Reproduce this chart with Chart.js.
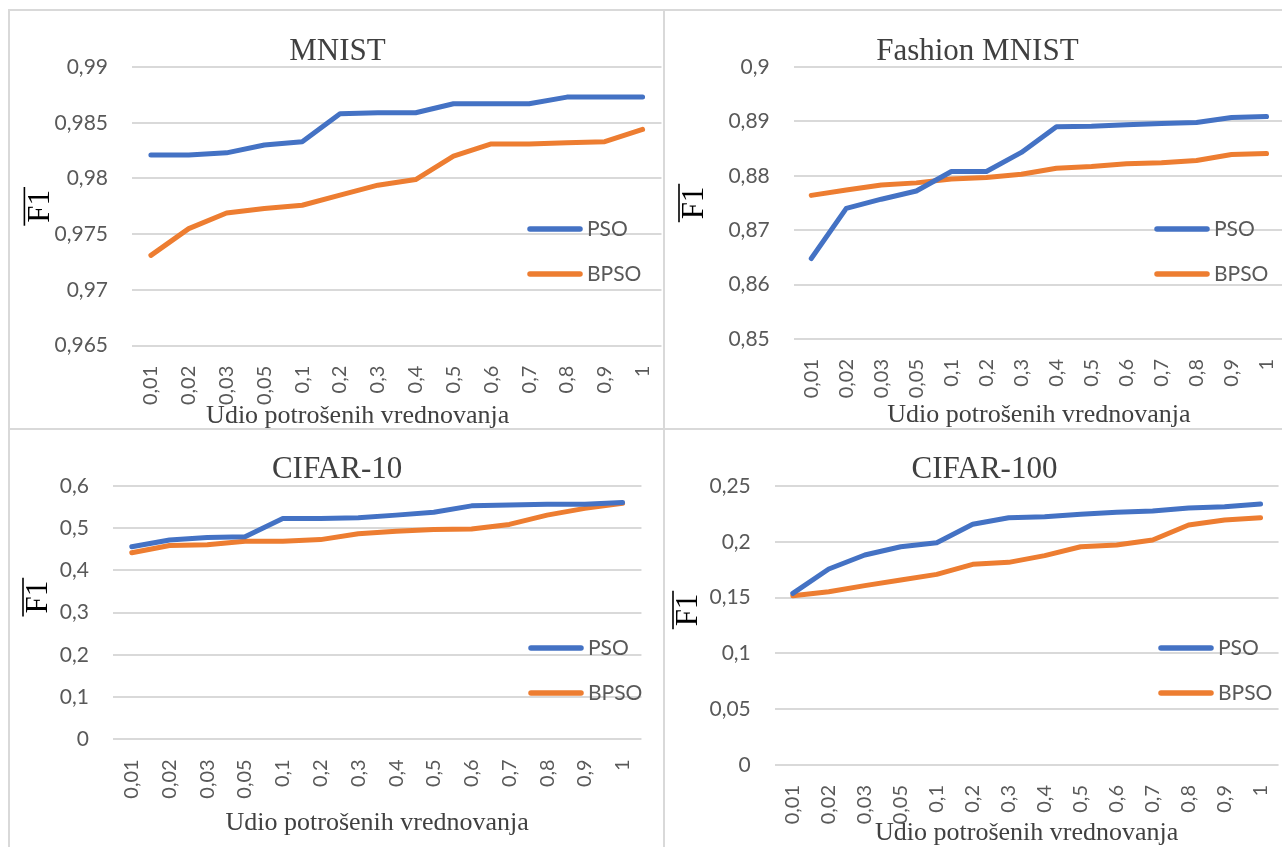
<!DOCTYPE html>
<html>
<head>
<meta charset="utf-8">
<title>PSO / BPSO - F1</title>
<script src="https://cdn.jsdelivr.net/npm/chart.js@4.4.1/dist/chart.umd.min.js"></script>
<style>
  html, body { margin: 0; padding: 0; background: #fff; }
  body { width: 1282px; height: 847px; position: relative; overflow: hidden; }
  .cell { position: absolute; overflow: hidden; }
  .cell canvas { position: absolute; left: 0; top: 0; }
  .rule { position: absolute; background: #d9d9d9; z-index: 5; }
</style>
</head>
<body>
<div class="cell" style="left:0;top:0;width:664px;height:429px"><canvas id="mnist" width="679" height="429" style="width:679px;height:429px"></canvas></div>
<div class="cell" style="left:664px;top:0;width:618px;height:429px"><canvas id="fashion" width="639" height="429" style="width:639px;height:429px"></canvas></div>
<div class="cell" style="left:0;top:429px;width:664px;height:418px"><canvas id="cifar10" width="659" height="418" style="width:659px;height:418px"></canvas></div>
<div class="cell" style="left:664px;top:429px;width:618px;height:418px"><canvas id="cifar100" width="633" height="418" style="width:633px;height:418px"></canvas></div>

<div class="rule" style="left:8px;top:9px;width:1274px;height:2px"></div>
<div class="rule" style="left:8px;top:9px;width:2px;height:838px"></div>
<div class="rule" style="left:663px;top:9px;width:2px;height:838px"></div>
<div class="rule" style="left:8px;top:428px;width:1274px;height:2px"></div>

<script>
// udio potrosenih vrednovanja (x kategorije)
var categories = ['0,01', '0,02', '0,03', '0,05', '0,1', '0,2', '0,3', '0,4', '0,5', '0,6', '0,7', '0,8', '0,9', '1'];
var seriesNames = ['PSO', 'BPSO'];

var mnistPso  = [0.9821, 0.9821, 0.9823, 0.9830, 0.9833, 0.9858, 0.9859, 0.9859, 0.9867, 0.9867, 0.9867, 0.9873, 0.9873, 0.9873];
var mnistBpso = [0.9731, 0.9755, 0.9769, 0.9773, 0.9776, 0.9785, 0.9794, 0.9799, 0.9820, 0.9831, 0.9831, 0.9832, 0.9833, 0.9844];

var fashionPso  = [0.8648, 0.8740, 0.8757, 0.8772, 0.8808, 0.8808, 0.8843, 0.8890, 0.8891, 0.8894, 0.8896, 0.8898, 0.8907, 0.8909];
var fashionBpso = [0.8764, 0.8774, 0.8783, 0.8787, 0.8794, 0.8797, 0.8803, 0.8814, 0.8817, 0.8822, 0.8824, 0.8828, 0.8839, 0.8841];

var cifar10Pso  = [0.456, 0.472, 0.478, 0.480, 0.523, 0.523, 0.525, 0.531, 0.538, 0.553, 0.555, 0.557, 0.557, 0.561];
var cifar10Bpso = [0.442, 0.459, 0.461, 0.469, 0.469, 0.473, 0.487, 0.493, 0.497, 0.498, 0.509, 0.531, 0.547, 0.559];

var cifar100Pso  = [0.1538, 0.1756, 0.1882, 0.1956, 0.1992, 0.2157, 0.2216, 0.2225, 0.2246, 0.2264, 0.2276, 0.2303, 0.2315, 0.2339];
var cifar100Bpso = [0.1517, 0.1553, 0.1607, 0.1658, 0.1708, 0.1798, 0.1816, 0.1876, 0.1956, 0.1971, 0.2016, 0.2151, 0.2195, 0.2216];

var mnistTicks    = [0.965, 0.97, 0.975, 0.98, 0.985, 0.99];
var fashionTicks  = [0.85, 0.86, 0.87, 0.88, 0.89, 0.9];
var cifar10Ticks  = [0, 0.1, 0.2, 0.3, 0.4, 0.5, 0.6];
var cifar100Ticks = [0, 0.05, 0.1, 0.15, 0.2, 0.25];

var xTitle = 'Udio potrošenih vrednovanja';
var yTitle = 'F1';

var SERIF = '"Liberation Serif", "Times New Roman", serif';
var SANS = 'Lato, "Open Sans", sans-serif';
var COLORS = ['#4472C4', '#ED7D31'];

// legenda unutar podrucja grafa (kao u Excelu)
var insideLegend = {
    id: 'insideLegend',
    afterDraw: function(chart, args, opts){
        var ctx = chart.ctx;
        ctx.save();
        ctx.lineCap = 'round';
        ctx.lineWidth = 5.5;
        ctx.font = '21px ' + SANS;
        ctx.textBaseline = 'middle';
        ctx.textAlign = 'left';
        ctx.fillStyle = '#595959';
        chart.data.datasets.forEach(function(ds, i){
            var y = opts.y + i * 45;
            ctx.strokeStyle = ds.borderColor;
            ctx.beginPath();
            ctx.moveTo(opts.x + 3, y);
            ctx.lineTo(opts.x + 53, y);
            ctx.stroke();
            ctx.fillText(ds.label, opts.x + 60, y);
        });
        ctx.restore();
    }
};

// crta iznad F1 (srednja vrijednost)
var overline = {
    id: 'overline',
    afterDraw: function(chart, args, opts){
        var ctx = chart.ctx, a = chart.chartArea;
        var cy = (a.top + a.bottom) / 2 - opts.dy;
        ctx.save();
        ctx.font = '31px ' + SERIF;
        var half = ctx.measureText(yTitle).width / 2 + 3;
        ctx.strokeStyle = '#000';
        ctx.lineWidth = 1.6;
        ctx.beginPath();
        ctx.moveTo(opts.x, cy - half);
        ctx.lineTo(opts.x, cy + half);
        ctx.stroke();
        ctx.restore();
    }
};

var panels = [
    { id: 'mnist', title: 'MNIST', pso: mnistPso, bpso: mnistBpso, ticks: mnistTicks,
      xText: xTitle + '\u2003\u2003\u2003', yText: yTitle, f1dy: 0,
      w: 679, h: 429, pl: 8, plotLeft: 132, plotRight: 667, plotTop: 67, plotBottom: 345.7,
      titleMid: 52, xTitleMid: 416, f1x: 40.4, lg: { x: 527, y: 229 } },
    { id: 'fashion', title: 'Fashion MNIST', pso: fashionPso, bpso: fashionBpso, ticks: fashionTicks,
      xText: xTitle, yText: yTitle, f1dy: 0,
      w: 639, h: 429, pl: 0, plotLeft: 129.75, plotRight: 626.75, plotTop: 67, plotBottom: 339,
      titleMid: 52, xTitleMid: 415.5, f1x: 31, lg: { x: 490, y: 229 } },
    { id: 'cifar10', title: 'CIFAR-10', pso: cifar10Pso, bpso: cifar10Bpso, ticks: cifar10Ticks,
      xText: xTitle, yText: '\u2003' + yTitle, f1dy: 15.5,
      w: 659, h: 418, pl: 27, plotLeft: 112.9, plotRight: 647.1, plotTop: 57, plotBottom: 310.3,
      titleMid: 41, xTitleMid: 394, f1x: 39, lg: { x: 528, y: 219 } },
    { id: 'cifar100', title: 'CIFAR-100', pso: cifar100Pso, bpso: cifar100Bpso, ticks: cifar100Ticks,
      xText: xTitle, yText: '\u2003' + yTitle, f1dy: 15.5,
      w: 633, h: 418, pl: 20, plotLeft: 110.8, plotRight: 621, plotTop: 57, plotBottom: 336,
      titleMid: 41, xTitleMid: 404, f1x: 25, lg: { x: 494, y: 219 } }
];

function makeChart(p){
    return new Chart(document.getElementById(p.id), {
        type: 'line',
        data: {
            labels: categories,
            datasets: [
                { label: seriesNames[0], data: p.pso, borderColor: COLORS[0], backgroundColor: COLORS[0] },
                { label: seriesNames[1], data: p.bpso, borderColor: COLORS[1], backgroundColor: COLORS[1] }
            ]
        },
        options: {
            responsive: false,
            animation: false,
            devicePixelRatio: 1,
            layout: { padding: { left: p.pl, right: p.w - p.plotRight, top: 0, bottom: 0 } },
            elements: {
                point: { radius: 0, hoverRadius: 0 },
                line: { borderWidth: 5, tension: 0, borderCapStyle: 'round', borderJoinStyle: 'round', fill: false }
            },
            plugins: {
                legend: { display: false },
                tooltip: { enabled: false },
                title: {
                    display: true, text: p.title, color: '#404040',
                    font: { family: SERIF, size: 31, weight: 'normal', lineHeight: 1 },
                    padding: { top: p.titleMid - 15.5, bottom: p.plotTop - p.titleMid - 15.5 }
                },
                insideLegend: p.lg,
                overline: { x: p.f1x - 16, dy: p.f1dy }
            },
            scales: {
                x: {
                    offset: true,
                    grid: { display: false },
                    border: { display: false },
                    ticks: { autoSkip: false, minRotation: 90, maxRotation: 90, padding: 12, color: '#595959',
                             font: { family: SANS, size: 20 } },
                    title: { display: true, text: p.xText, color: '#404040',
                             font: { family: SERIF, size: 26, lineHeight: 1 },
                             padding: { top: 0, bottom: p.h - p.xTitleMid - 13 } },
                    afterFit: function(s){ s.height = p.h - p.plotBottom; }
                },
                y: {
                    min: p.ticks[0],
                    max: p.ticks[p.ticks.length - 1],
                    grid: { color: '#d9d9d9', lineWidth: 2, drawTicks: false },
                    border: { display: false },
                    ticks: { padding: 24, color: '#595959', font: { family: SANS, size: 21 },
                             callback: function(v){ return String(v).replace('.', ','); } },
                    afterBuildTicks: function(s){
                        s.ticks = p.ticks.map(function(v){ return { value: v }; });
                    },
                    title: { display: true, text: p.yText, color: '#000',
                             font: { family: SERIF, size: 31, lineHeight: 1 },
                             padding: { top: p.f1x - p.pl - 15.5, bottom: 0 } },
                    afterFit: function(s){ s.width = p.plotLeft - p.pl; }
                }
            }
        },
        plugins: [insideLegend, overline]
    });
}

panels.forEach(makeChart);
</script>
</body>
</html>
